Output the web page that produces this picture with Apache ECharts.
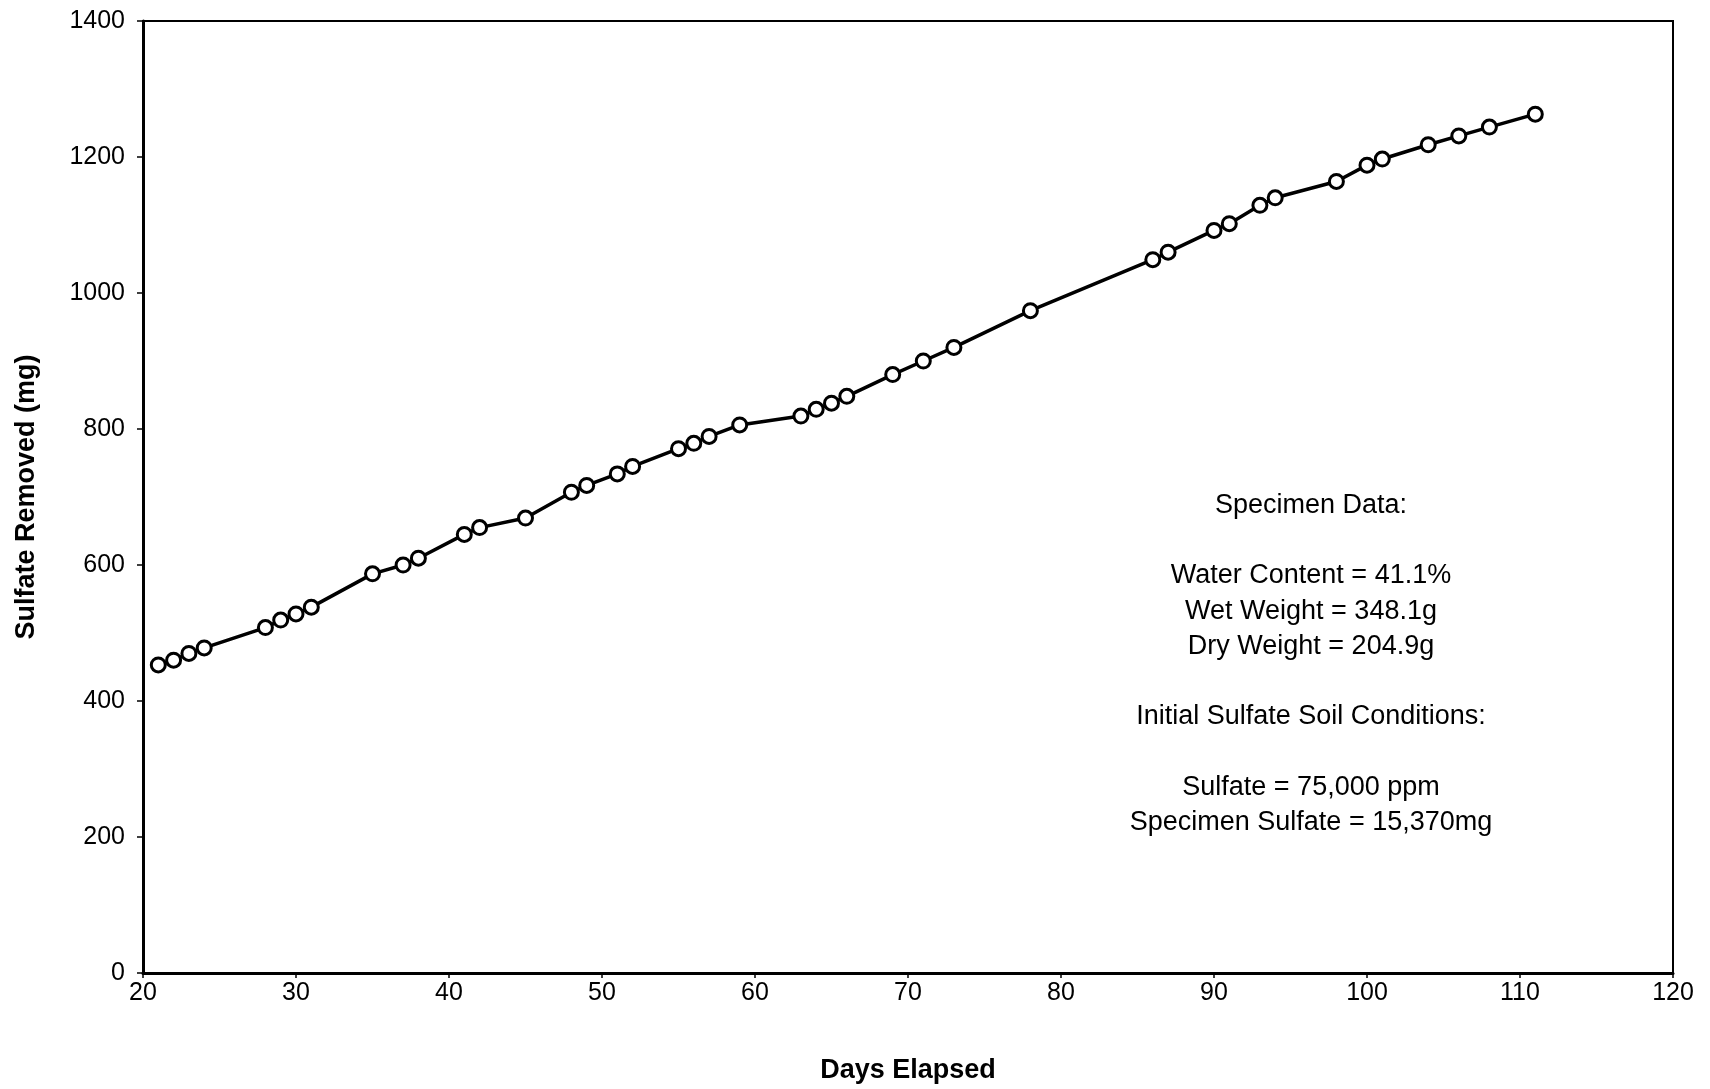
<!DOCTYPE html>
<html>
<head>
<meta charset="utf-8">
<script src="https://cdn.jsdelivr.net/npm/echarts@6/dist/echarts.min.js"></script>
<style>
html,body{margin:0;padding:0;background:#fff;}
#chart{width:1710px;height:1089px;}
</style>
</head>
<body>
<div id="chart"></div>
<script>
const days = [21,22,23,24,28,29,30,31,35,37,38,41,42,45,48,49,51,52,55,56,57,59,63,64,65,66,69,71,73,78,86,87,90,91,93,94,98,100,101,104,106,108,111];
const sulfateRemoved = [453,460,470,478,508,519,528,538,587,600,610,645,655,669,707,717,734,745,771,779,789,806,819,829,838,848,880,900,920,974,1049,1060,1092,1102,1129,1140,1164,1188,1197,1218,1231,1244,1263];
const xAxisTitle = 'Days Elapsed';
const yAxisTitle = 'Sulfate Removed (mg)';
const annotationLines = [
  'Specimen Data:',
  '',
  'Water Content = 41.1%',
  'Wet Weight = 348.1g',
  'Dry Weight = 204.9g',
  '',
  'Initial Sulfate Soil Conditions:',
  '',
  'Sulfate = 75,000 ppm',
  'Specimen Sulfate = 15,370mg'
];

const FONT = '"Liberation Sans", Arial, sans-serif';
const chart = echarts.init(document.getElementById('chart'), null, {renderer:'canvas'});
chart.setOption({
  animation:false,
  backgroundColor:'#fff',
  grid:{left:143, right:37, top:21, bottom:111, show:true, borderColor:'#000', borderWidth:2, backgroundColor:'transparent'},
  xAxis:{
    type:'value', min:20, max:120, interval:10,
    name:xAxisTitle, nameLocation:'middle', nameGap:84,
    nameTextStyle:{fontFamily:FONT, fontSize:27, fontWeight:'bold', color:'#000'},
    axisLine:{show:true, onZero:false, lineStyle:{color:'#000', width:3}},
    axisTick:{show:true, length:5, lineStyle:{color:'#000', width:1.5}},
    axisLabel:{fontFamily:FONT, fontSize:25, color:'#000', margin:8},
    splitLine:{show:false}
  },
  yAxis:{
    type:'value', min:0, max:1400, interval:200,
    name:yAxisTitle, nameLocation:'middle', nameGap:103, nameRotate:90,
    nameTextStyle:{fontFamily:FONT, fontSize:27, fontWeight:'bold', color:'#000'},
    axisLine:{show:true, lineStyle:{color:'#000', width:3}},
    axisTick:{show:true, length:6, lineStyle:{color:'#000', width:1.5}},
    axisLabel:{fontFamily:FONT, fontSize:25, color:'#000', margin:18, formatter:(v)=>String(v)},
    splitLine:{show:false}
  },
  series:[{
    type:'line',
    data:days.map((d,i)=>[d, sulfateRemoved[i]]),
    symbol:'circle', symbolSize:14,
    itemStyle:{color:'#fff', borderColor:'#000', borderWidth:3},
    lineStyle:{color:'#000', width:3.5},
    z:3
  }],
  graphic:[{
    type:'text',
    x:1311, y:488,
    style:{
      text:annotationLines.join('\n'),
      font:'27px ' + FONT,
      fill:'#000',
      align:'center',
      verticalAlign:'top',
      lineHeight:35.2
    }
  }]
});
</script>
</body>
</html>
